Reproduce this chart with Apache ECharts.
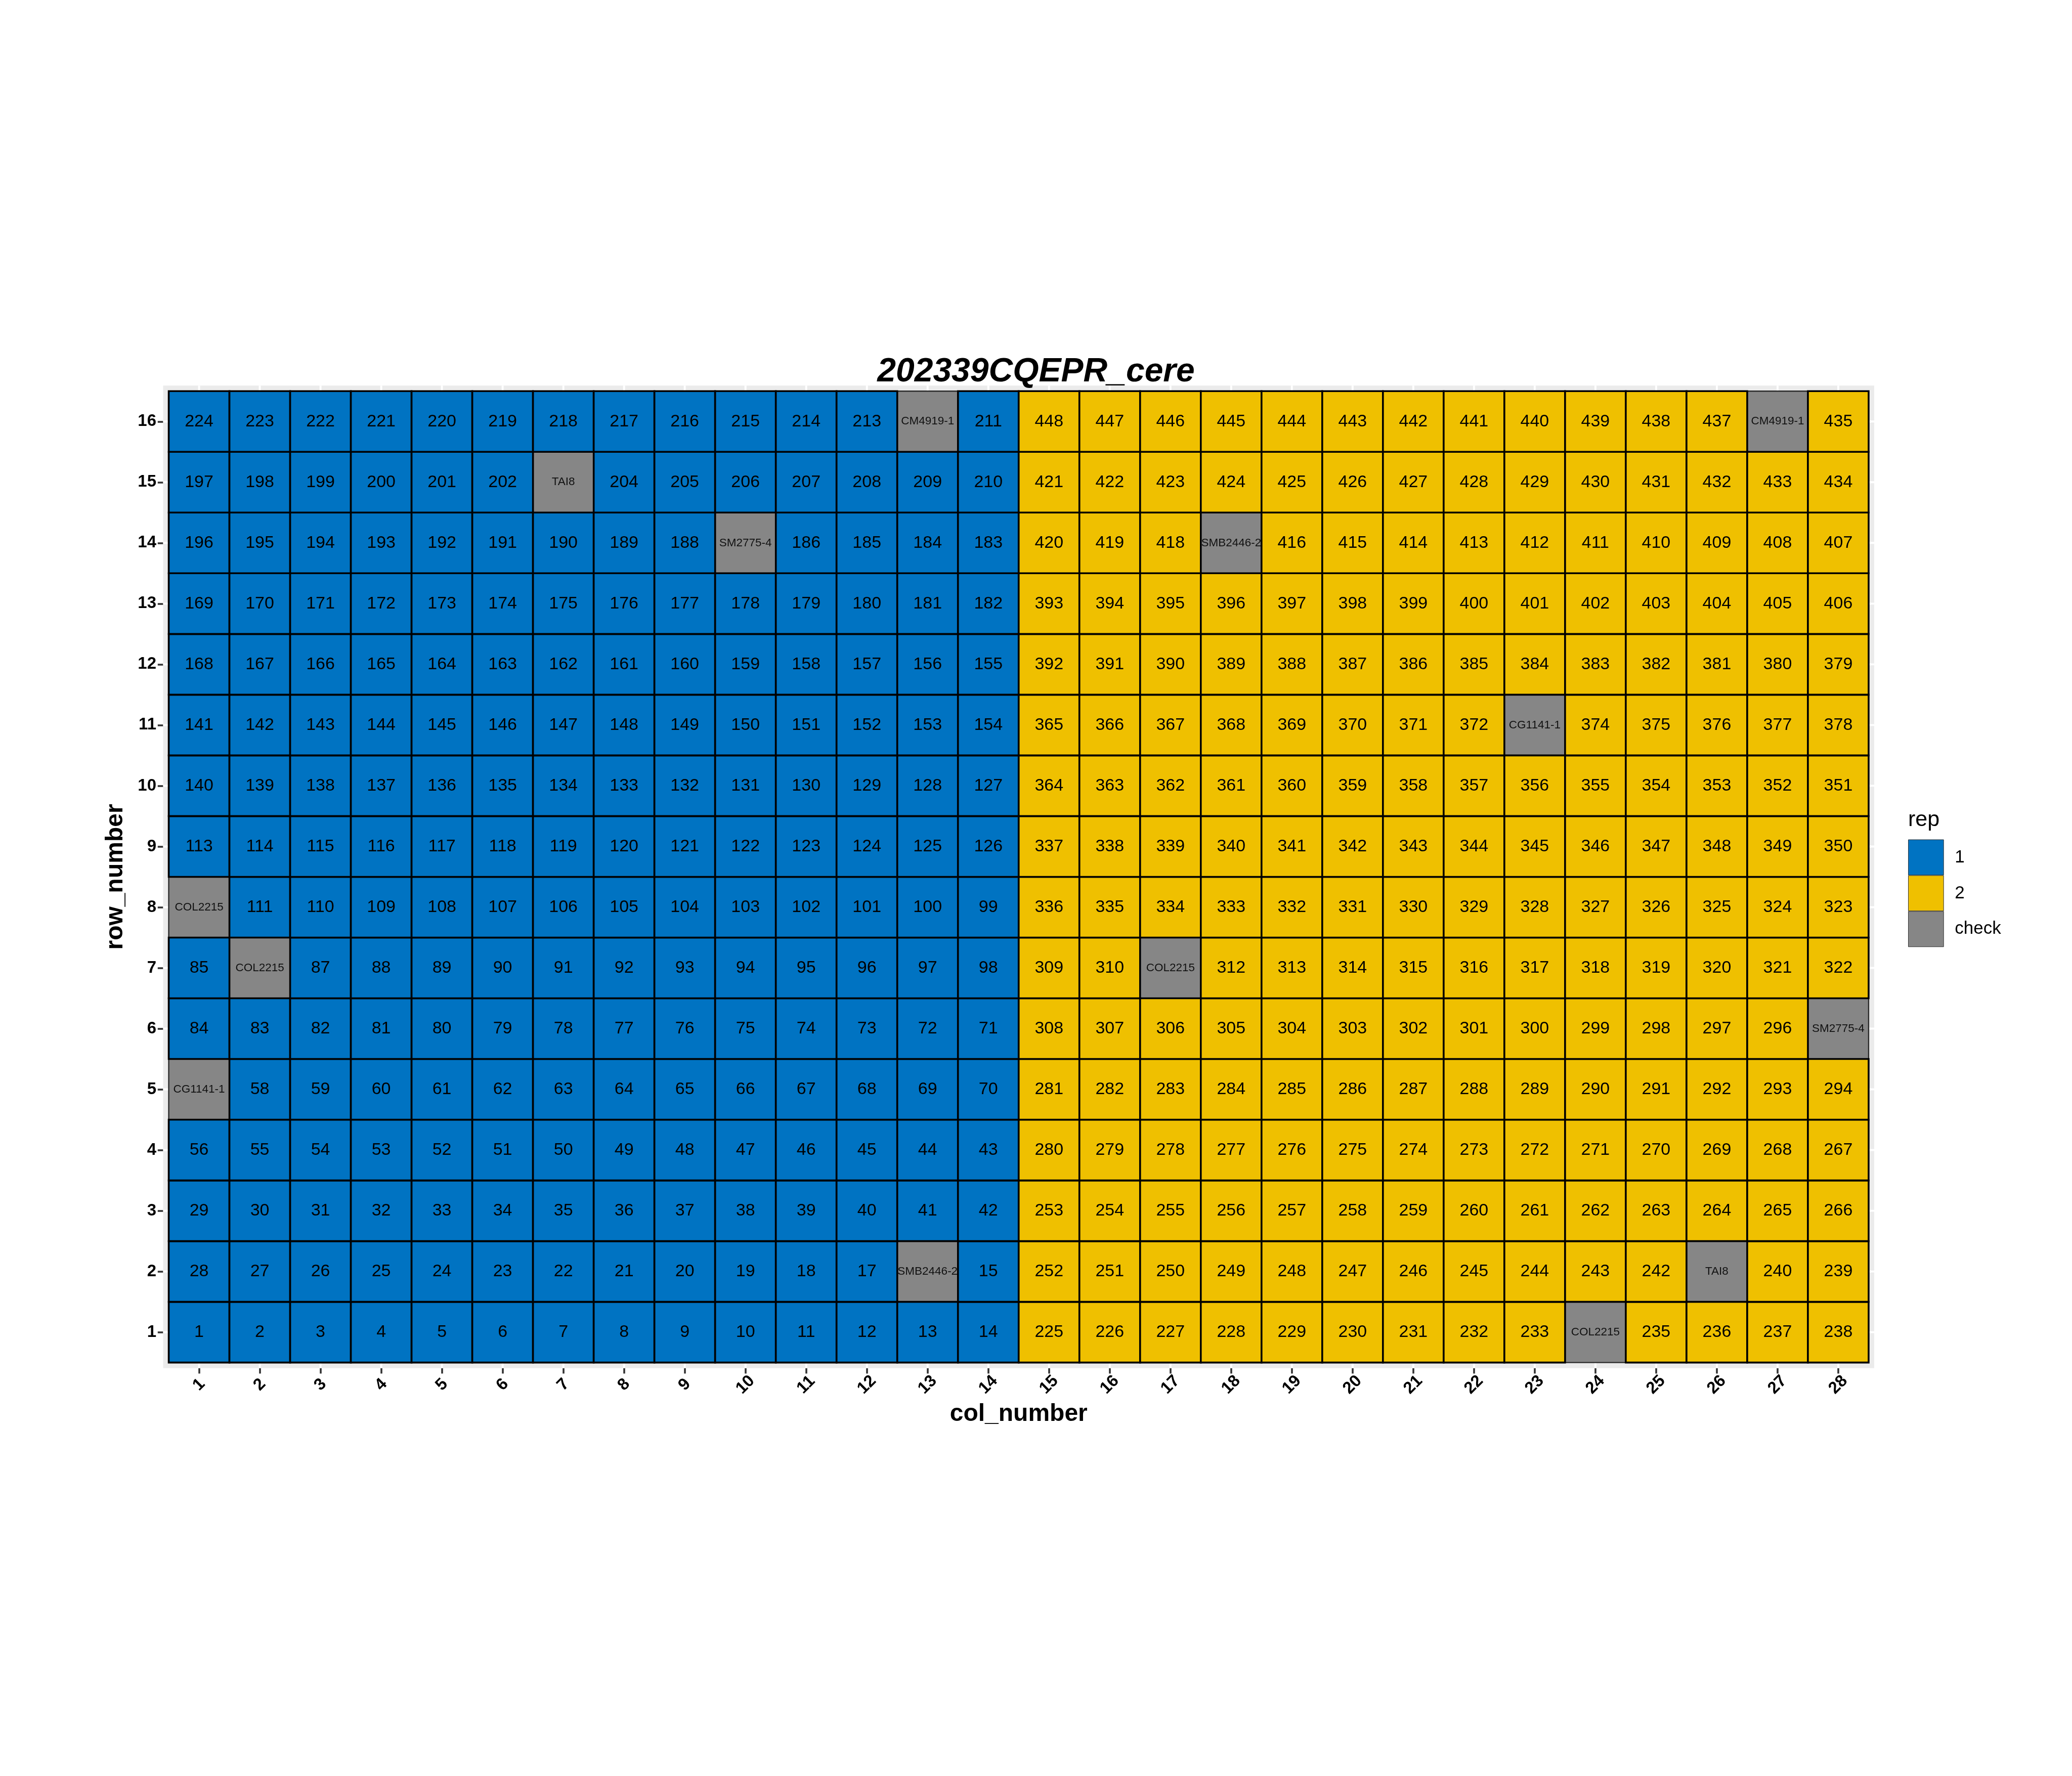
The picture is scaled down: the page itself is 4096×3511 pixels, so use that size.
<!DOCTYPE html>
<html>
<head>
<meta charset="utf-8">
<style>
html,body{margin:0;padding:0;background:#ffffff;}
#chart{width:4096px;height:3511px;}
</style>
<script src="https://cdn.jsdelivr.net/npm/echarts@6.0.0/dist/echarts.min.js"></script>
</head>
<body>
<div id="chart"></div>
<script>
// ---------------- data ----------------
const chartTitle = '202339CQEPR_cere';
const colLabels = [1,2,3,4,5,6,7,8,9,10,11,12,13,14,15,16,17,18,19,20,21,22,23,24,25,26,27,28];
const rowLabels = [1,2,3,4,5,6,7,8,9,10,11,12,13,14,15,16];
const repByCol = ['1','1','1','1','1','1','1','1','1','1','1','1','1','1',
                  '2','2','2','2','2','2','2','2','2','2','2','2','2','2'];
const repNames = ['1','2','check'];
const repColors = ['#0073C2','#EFC000','#868686'];

const row01 = [1,2,3,4,5,6,7,8,9,10,11,12,13,14,225,226,227,228,229,230,231,232,233,'COL2215',235,236,237,238];
const row02 = [28,27,26,25,24,23,22,21,20,19,18,17,'SMB2446-2',15,252,251,250,249,248,247,246,245,244,243,242,'TAI8',240,239];
const row03 = [29,30,31,32,33,34,35,36,37,38,39,40,41,42,253,254,255,256,257,258,259,260,261,262,263,264,265,266];
const row04 = [56,55,54,53,52,51,50,49,48,47,46,45,44,43,280,279,278,277,276,275,274,273,272,271,270,269,268,267];
const row05 = ['CG1141-1',58,59,60,61,62,63,64,65,66,67,68,69,70,281,282,283,284,285,286,287,288,289,290,291,292,293,294];
const row06 = [84,83,82,81,80,79,78,77,76,75,74,73,72,71,308,307,306,305,304,303,302,301,300,299,298,297,296,'SM2775-4'];
const row07 = [85,'COL2215',87,88,89,90,91,92,93,94,95,96,97,98,309,310,'COL2215',312,313,314,315,316,317,318,319,320,321,322];
const row08 = ['COL2215',111,110,109,108,107,106,105,104,103,102,101,100,99,336,335,334,333,332,331,330,329,328,327,326,325,324,323];
const row09 = [113,114,115,116,117,118,119,120,121,122,123,124,125,126,337,338,339,340,341,342,343,344,345,346,347,348,349,350];
const row10 = [140,139,138,137,136,135,134,133,132,131,130,129,128,127,364,363,362,361,360,359,358,357,356,355,354,353,352,351];
const row11 = [141,142,143,144,145,146,147,148,149,150,151,152,153,154,365,366,367,368,369,370,371,372,'CG1141-1',374,375,376,377,378];
const row12 = [168,167,166,165,164,163,162,161,160,159,158,157,156,155,392,391,390,389,388,387,386,385,384,383,382,381,380,379];
const row13 = [169,170,171,172,173,174,175,176,177,178,179,180,181,182,393,394,395,396,397,398,399,400,401,402,403,404,405,406];
const row14 = [196,195,194,193,192,191,190,189,188,'SM2775-4',186,185,184,183,420,419,418,'SMB2446-2',416,415,414,413,412,411,410,409,408,407];
const row15 = [197,198,199,200,201,202,'TAI8',204,205,206,207,208,209,210,421,422,423,424,425,426,427,428,429,430,431,432,433,434];
const row16 = [224,223,222,221,220,219,218,217,216,215,214,213,'CM4919-1',211,448,447,446,445,444,443,442,441,440,439,438,437,'CM4919-1',435];
const plotRows = [row01,row02,row03,row04,row05,row06,row07,row08,row09,row10,row11,row12,row13,row14,row15,row16];

// ---------------- build ----------------
const FONT = 'Liberation Sans, Arial, Helvetica, sans-serif';
const tiles = {'1': {data: [], labels: []}, '2': {data: [], labels: []}, 'check': {data: [], labels: []}};
plotRows.forEach(function (row, r) {
  row.forEach(function (v, c) {
    const rep = (typeof v === 'string') ? 'check' : repByCol[c];
    tiles[rep].data.push([colLabels[c], rowLabels[r]]);
    tiles[rep].labels.push(String(v));
  });
});

function tileSeries(rep, idx, z) {
  const isCheck = rep === 'check';
  const labels = tiles[rep].labels;
  return {
    type: 'custom',
    name: rep,
    z: z,
    silent: true,
    itemStyle: {color: repColors[idx]},
    data: tiles[rep].data,
    encode: {x: 0, y: 1},
    renderItem: function (params, api) {
      const c = api.value(0), r = api.value(1);
      const p0 = api.coord([c - 0.5, r + 0.5]);
      const p1 = api.coord([c + 0.5, r - 0.5]);
      return {
        type: 'rect',
        shape: {x: p0[0], y: p0[1], width: p1[0] - p0[0], height: p1[1] - p0[1]},
        style: {fill: repColors[idx], stroke: isCheck ? '#2a2a2a' : '#000000', lineWidth: isCheck ? 2.4 : 3.6},
        textContent: {
          style: {
            text: labels[params.dataIndex],
            fill: isCheck ? '#111111' : '#000000',
            fontSize: isCheck ? 22.5 : 34,
            fontFamily: FONT,
            align: 'center',
            verticalAlign: 'middle'
          }
        },
        textConfig: {position: 'inside'}
      };
    }
  };
}

function gridLineSeries(vertical) {
  const vals = vertical ? colLabels : rowLabels;
  return {
    type: 'custom',
    name: vertical ? 'vgrid' : 'hgrid',
    z: 1,
    silent: true,
    data: vals.map(function (v) { return vertical ? [v, rowLabels[0]] : [colLabels[0], v]; }),
    encode: {x: 0, y: 1},
    renderItem: function (params, api) {
      const cs = params.coordSys;
      if (vertical) {
        const x = api.coord([api.value(0), api.value(1)])[0];
        return {type: 'line', shape: {x1: x, y1: cs.y, x2: x, y2: cs.y + cs.height},
          style: {stroke: '#ffffff', lineWidth: 3.9}};
      }
      const y = api.coord([api.value(0), api.value(1)])[1];
      return {type: 'line', shape: {x1: cs.x, y1: y, x2: cs.x + cs.width, y2: y},
        style: {stroke: '#ffffff', lineWidth: 3.9}};
    }
  };
}

const chart = echarts.init(document.getElementById('chart'), null, {renderer: 'canvas'});
const option = {
  animation: false,
  backgroundColor: '#ffffff',
  title: {
    text: chartTitle,
    left: 'center',
    top: 703,
    padding: [0, 70, 0, 0],
    textStyle: {fontSize: 66, fontWeight: 'bold', fontStyle: 'italic', color: '#000000', fontFamily: FONT}
  },
  grid: {
    left: 322.5, right: 391, top: 762.2, bottom: 806.3,
    show: true, backgroundColor: '#EBEBEB', borderWidth: 0,
    containLabel: false, outerBoundsMode: 'none'
  },
  legend: {
    data: repNames,
    orient: 'vertical',
    left: 3772, top: 1659.5,
    padding: 0,
    itemWidth: 69.7, itemHeight: 69.9, itemGap: 0,
    icon: 'rect',
    selectedMode: false,
    itemStyle: {borderColor: '#333333', borderWidth: 1},
    textStyle: {fontSize: 35, color: '#000000', fontFamily: FONT, padding: [0, 0, 0, 17]}
  },
  graphic: [{
    type: 'text', left: 3772, top: 1600,
    style: {text: 'rep', fontSize: 43, fill: '#000000', fontFamily: FONT}
  }],
  xAxis: {
    type: 'value', min: 0.408, max: 28.592,
    axisLine: {show: false},
    splitLine: {show: false},
    axisTick: {show: true, length: 10.7, customValues: colLabels, lineStyle: {color: '#333333', width: 3.6}},
    axisLabel: {
      customValues: colLabels, rotate: 45, align: 'center', verticalAlign: 'middle', margin: 33,
      fontSize: 33, fontWeight: 'bold', color: '#000000', fontFamily: FONT,
      formatter: function (v) { return String(v); }
    },
    name: 'col_number', nameLocation: 'middle', nameGap: 67,
    nameTextStyle: {fontSize: 48, fontWeight: 'bold', color: '#000000', fontFamily: FONT}
  },
  yAxis: {
    type: 'value', min: 0.408, max: 16.592,
    axisLine: {show: false},
    splitLine: {show: false},
    axisTick: {show: true, length: 10.7, customValues: rowLabels, lineStyle: {color: '#333333', width: 3.6}},
    axisLabel: {
      customValues: rowLabels, margin: 13.5,
      fontSize: 33, fontWeight: 'bold', color: '#000000', fontFamily: FONT,
      formatter: function (v) { return String(v); }
    },
    name: 'row_number', nameLocation: 'middle', nameGap: 70, nameRotate: 90,
    nameTextStyle: {fontSize: 48, fontWeight: 'bold', color: '#000000', fontFamily: FONT}
  },
  series: [
    gridLineSeries(true),
    gridLineSeries(false),
    tileSeries('check', 2, 3),
    tileSeries('1', 0, 4),
    tileSeries('2', 1, 4)
  ]
};
chart.setOption(option);
</script>
</body>
</html>
